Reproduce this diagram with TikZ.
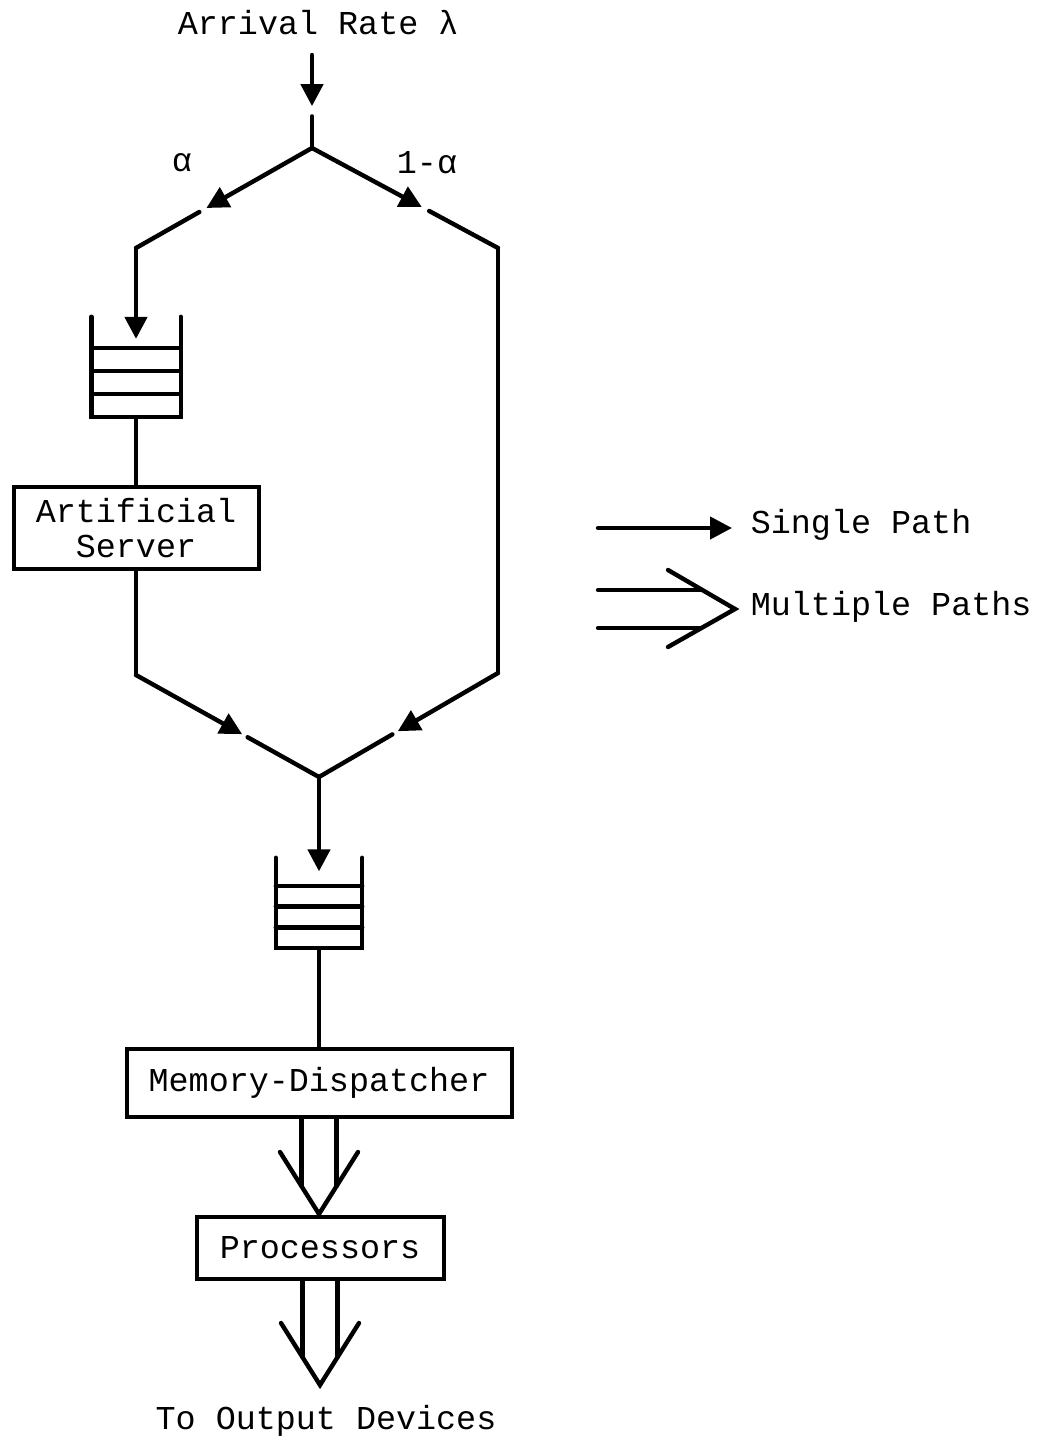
\documentclass[tikz,border=0pt]{standalone}
\usepackage{fontspec}
\setmainfont{Liberation Mono}
\usetikzlibrary{arrows.meta,calc}

\begin{document}
\begin{tikzpicture}[x=0.5pt,y=-0.5pt,line width=2.2pt,line cap=round,
        font=\fontsize{16.7}{17.5}\selectfont,
        box/.style={draw,line width=2pt,inner sep=0pt,align=center},
        queue/.style={inner sep=0pt},
        tip/.style={-{Triangle[length=11pt,width=11pt]}}]
    \useasboundingbox (0,0) rectangle (1044,1440);
    \node[anchor=base west] (AR) at (169,34) {Arrival Rate λ};
    \node (a) at (182,163) {α};
    \node (b) at (427,163) {1-α};
    \node[queue,minimum width=42.5pt,minimum height=48pt] (Q1) at (136,367) {};
    \node[box,minimum width=122.5pt,minimum height=41pt] (AS) at (136,528) {Artificial\\Server};
    \node[queue,minimum width=41pt,minimum height=43pt] (Q2) at (319,903) {};
    \node[box,minimum width=192.5pt,minimum height=34pt] (MD) at (319,1083) {Memory-Dispatcher};
    \node[box,minimum width=123.5pt,minimum height=31pt] (P) at (320,1248) {Processors};
    \node (OD) at (326,1421) {To Output Devices};
    \node[anchor=west] (SP) at (742,525) {Single Path};
    \node[anchor=west] (MP) at (742,607) {Multiple Paths};
    \coordinate (A0) at (312,55);
    \coordinate (J1) at (312,148);
    \coordinate (L1) at (136,248);
    \coordinate (R1) at (498,248);
    \coordinate (L2) at (136,675);
    \coordinate (R2) at (498,673);
    \coordinate (J2) at (319,777);
    \coordinate (T1) at (319,1214);
    \coordinate (T2) at (320,1385);
    \coordinate (S0) at (598,528);
    \coordinate (S1) at (732,528);
    \coordinate (M0) at (598,609);
    \coordinate (M1) at (735,609);
    \foreach \a/\b/\s/\r in {A0/J1/0.55/0.66,J1/L1/0.6/0.64,J1/R1/0.59/0.63,L2/J2/0.58/0.61,R2/J2/0.56/0.59}{
        \draw[tip] (\a) -- ($(\a)!\s!(\b)$);
        \draw ($(\a)!\r!(\b)$) -- (\b);
    }
    \draw[tip] (L1) -- ($(Q1.north)!0.22!(Q1.south)$);
    \draw[tip] (J2) -- ($(Q2.north)!0.15!(Q2.south)$);
    \draw (Q1) -- (AS) (AS) -- (L2) (R1) -- (R2) (Q2) -- (MD);
    \foreach \q in {Q1,Q2}{
        \draw (\q.north west) -- (\q.south west) -- (\q.south east) -- (\q.north east);
        \foreach \f in {0.23,0.46,0.69}
            \draw ($(\q.south west)!\f!(\q.north west)$) -- ($(\q.south east)!\f!(\q.north east)$);
    }
    \foreach \a/\t in {MD/T1,P/T2}{
        \foreach \d in {-17.5,17.5}
            \draw ($(\a.south)+(\d,0)$) -- ($(\t)+(\d,-28)$);
        \draw ($(\t)+(-39,-62)$) -- (\t) -- ($(\t)+(39,-62)$);
    }
    \draw[tip] (S0) -- (S1);
    \foreach \d in {-19,19}
        \draw ($(M0)+(0,\d)$) -- ($(M1)+(-34,\d)$);
    \draw ($(M1)+(-67,-39)$) -- (M1) -- ($(M1)+(-67,38)$);
\end{tikzpicture}
\end{document}
